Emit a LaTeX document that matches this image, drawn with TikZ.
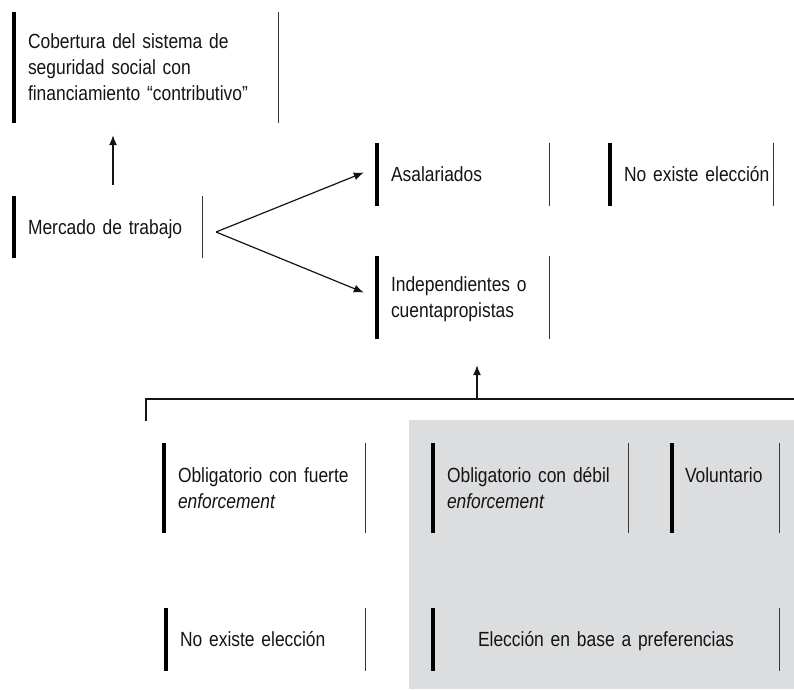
\documentclass[tikz,border=0pt]{standalone}
\usepackage{fontspec}
\setmainfont{Liberation Sans}[FakeStretch=0.85]
\usetikzlibrary{arrows.meta}
\definecolor{panel}{RGB}{220,221,223}
\definecolor{ink}{RGB}{20,20,20}
\begin{document}
\begin{tikzpicture}[x=1pt,y=-1pt,
  box/.style={inner xsep=14pt, inner ysep=0pt, align=left, text=ink,
    font=\fontsize{20.5}{26}\selectfont,
    text height=14.5pt, text depth=0pt},
  twol/.style={text depth=26pt},
  threel/.style={text depth=52pt},
  thickbar/.style={line width=4pt, draw=black},
  thinbar/.style={line width=1.3pt, draw=ink!85},
  arr/.style={line width=1.2pt, draw=ink, -{Latex[length=10pt,width=8pt]}},
  conn/.style={line width=1.2pt, draw=ink}]
\useasboundingbox (0,0) rectangle (794,689);
\fill[panel] (409,420) rectangle (794,689);

\node[box, threel, text width=236pt, minimum height=111pt] (cob) at (146,67.5)
  {\mbox{Cobertura del sistema de}\\\mbox{seguridad social con}\\\mbox{financiamiento “contributivo”}};
\node[box, text width=160pt, minimum height=62pt] (mer) at (108,227) {\mbox{Mercado de trabajo}};
\node[box, text width=144pt, minimum height=63pt] (asa) at (463,174.5) {\mbox{Asalariados}};
\node[box, text width=135pt, minimum height=63pt] (ne1) at (691.5,174.5) {\mbox{No existe elección}};
\node[box, twol, text width=144pt, minimum height=83pt] (ind) at (463,297.5) {\mbox{Independientes o}\\\mbox{cuentapropistas}};
\node[box, twol, text width=173pt, minimum height=90pt] (obf) at (264.5,488) {\mbox{Obligatorio con fuerte}\\\mbox{\itshape enforcement}};
\node[box, twol, text width=167pt, minimum height=90pt] (obd) at (530.5,488) {\mbox{Obligatorio con débil}\\\mbox{\itshape enforcement}};
\node[box, twol, inner xsep=13pt, text width=81pt, minimum height=90pt] (vol) at (725.5,488) {\mbox{Voluntario}\\\mbox{}};
\node[box, text width=171pt, minimum height=63pt] (ne2) at (265.5,639.5) {\mbox{No existe elección}};
\node[box, align=center, text width=318pt, minimum height=63pt] (ele) at (606,639.5) {\mbox{Elección en base a preferencias}};

\foreach \n in {cob,mer,asa,ne1,ind,obf,obd,vol,ne2,ele} {
  \draw[thickbar] (\n.north west) -- (\n.south west);
  \draw[thinbar] (\n.north east) -- (\n.south east);
}

% arrow to coverage
\draw[arr, shorten <=11pt, shorten >=12pt] ([xshift=5pt]mer.north) -- ([xshift=5pt]mer.north |- cob.south);

% split arrows
\coordinate (split) at (216,232);
\draw[arr] (split) -- ([xshift=-13pt,yshift=2pt]asa.west);
\draw[arr] (split) -- ([xshift=-13pt,yshift=5pt]ind.west);

% bracket
\coordinate (brl) at (146,421);
\coordinate (brc) at (146,399);
\coordinate (brr) at (794,399);
\coordinate (bra) at (477,399);
\draw[conn] (brl) -- (brc) -- (brr);
\draw[arr, shorten >=26pt] (bra) -- (bra |- ind.south);
\end{tikzpicture}
\end{document}
